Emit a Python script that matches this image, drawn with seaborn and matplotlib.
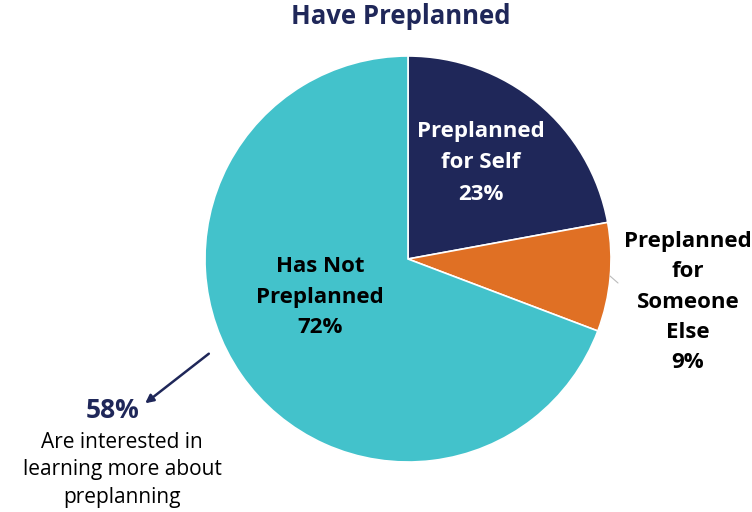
import matplotlib
matplotlib.use('Agg')
import matplotlib.pyplot as plt
import seaborn as sns

sns.set_theme(style='white')
plt.rcParams['font.family'] = ['Open Sans', 'DejaVu Sans']

categories = ['Preplanned\nfor Self', 'Preplanned\nfor\nSomeone\nElse', 'Has Not\nPreplanned']
values = [23, 9, 72]
colors = ['#1F2759', '#E07024', '#43C2CB']
interested = 58

W, H = 752, 512
fig = plt.figure(figsize=(W / 100, H / 100), dpi=100)
cx, cy, r = 408, 259, 203
ax = fig.add_axes([(cx - r) / W, (H - cy - r) / H, 2 * r / W, 2 * r / H])
ax.pie(values, colors=colors, startangle=90, counterclock=False, radius=1,
       wedgeprops=dict(edgecolor='white', linewidth=1.2))
ax.set_xlim(-1, 1)
ax.set_ylim(-1, 1)
ax.set_aspect('equal')


def px(x, y):
    return x / W, 1 - y / H


fig.text(*px(401, 16), 'Have Preplanned', ha='center', va='center',
         fontsize=18.5, fontweight='bold', color='#1F2759')

lbl = [f'{c}\n{v}%' for c, v in zip(categories, values)]
fig.text(*px(481, 163), lbl[0], ha='center', va='center', fontsize=16,
         fontweight='bold', color='white', linespacing=1.65)
fig.text(*px(688, 302), lbl[1], ha='center', va='center', fontsize=16,
         fontweight='bold', color='black', linespacing=1.57)
fig.text(*px(320, 297), lbl[2], ha='center', va='center', fontsize=16,
         fontweight='bold', color='black', linespacing=1.62)

# faint leader line for the small slice
fig.add_artist(plt.Line2D([610 / W, 618 / W], [1 - 276 / H, 1 - 283 / H],
                          color='#BBBBBB', lw=0.8))

fig.text(*px(113, 411), f'{interested}%', ha='center', va='center',
         fontsize=19, fontweight='bold', color='#1F2759')
fig.text(*px(122, 470), 'Are interested in\nlearning more about\npreplanning',
         ha='center', va='center', fontsize=15, color='black', linespacing=1.43)
fig.add_artist(plt.matplotlib.patches.FancyArrowPatch(
    px(211, 352), px(143, 405), transform=fig.transFigure,
    arrowstyle='-|>', mutation_scale=12, color='#1F2759', lw=1.8))

fig.savefig('out.png', dpi=100)
